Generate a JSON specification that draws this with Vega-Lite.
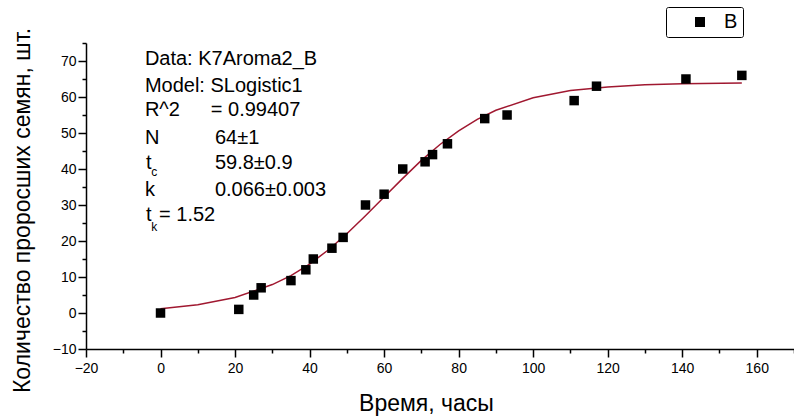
{
  "$schema": "https://vega.github.io/schema/vega-lite/v6.json",
  "width": 708,
  "height": 306,
  "autosize": {"type": "none"},
  "padding": {"left": 86, "top": 43, "right": 0, "bottom": 70},
  "background": "white",
  "config": {
    "view": {"stroke": null},
    "font": "Liberation Sans, Arial",
    "axis": {"grid": false, "domainColor": "black", "tickColor": "black", "labelColor": "black", "titleColor": "black", "domainWidth": 1.5, "tickWidth": 1.5, "labelFont": "Liberation Sans, Arial", "labelFontSize": 14, "titleFont": "Liberation Sans, Arial", "titleFontWeight": "normal", "titleFontSize": 23}
  },
  "datasets": {
    "points": [
      {"t": 0, "n": 0, "s": "B"},
      {"t": 21, "n": 1, "s": "B"},
      {"t": 25, "n": 5, "s": "B"},
      {"t": 27, "n": 7, "s": "B"},
      {"t": 35, "n": 9, "s": "B"},
      {"t": 39, "n": 12, "s": "B"},
      {"t": 41, "n": 15, "s": "B"},
      {"t": 46, "n": 18, "s": "B"},
      {"t": 49, "n": 21, "s": "B"},
      {"t": 55, "n": 30, "s": "B"},
      {"t": 60, "n": 33, "s": "B"},
      {"t": 65, "n": 40, "s": "B"},
      {"t": 71, "n": 42, "s": "B"},
      {"t": 73, "n": 44, "s": "B"},
      {"t": 77, "n": 47, "s": "B"},
      {"t": 87, "n": 54, "s": "B"},
      {"t": 93, "n": 55, "s": "B"},
      {"t": 111, "n": 59, "s": "B"},
      {"t": 117, "n": 63, "s": "B"},
      {"t": 141, "n": 65, "s": "B"},
      {"t": 156, "n": 66, "s": "B"}
    ],
    "fit": [
      {"t": 0, "n": 1.2},
      {"t": 10, "n": 2.3},
      {"t": 20, "n": 4.3},
      {"t": 30, "n": 7.9},
      {"t": 35, "n": 10.4},
      {"t": 40, "n": 13.6},
      {"t": 45, "n": 17.5},
      {"t": 50, "n": 22.0},
      {"t": 55, "n": 27.0},
      {"t": 60, "n": 32.2},
      {"t": 65, "n": 37.4},
      {"t": 70, "n": 42.4},
      {"t": 75, "n": 46.8},
      {"t": 80, "n": 50.6},
      {"t": 85, "n": 53.8},
      {"t": 90, "n": 56.3},
      {"t": 100, "n": 59.8},
      {"t": 110, "n": 61.8},
      {"t": 120, "n": 62.8},
      {"t": 130, "n": 63.4},
      {"t": 140, "n": 63.7},
      {"t": 156, "n": 63.9}
    ],
    "notes": [
      {"t": -4.2, "n": 70.6, "label": "Data: K7Aroma2_B"},
      {"t": -4.2, "n": 63.1, "label": "Model: SLogistic1"},
      {"t": -4.2, "n": 56.4, "label": "R^2"},
      {"t": 13.5, "n": 56.4, "label": "=  0.99407"},
      {"t": -4.2, "n": 48.75, "label": "N"},
      {"t": 14.6, "n": 48.75, "label": "64±1"},
      {"t": -3.9, "n": 41.7, "label": "t"},
      {"t": 14.6, "n": 41.7, "label": "59.8±0.9"},
      {"t": -4.2, "n": 34.2, "label": "k"},
      {"t": 14.6, "n": 34.2, "label": "0.066±0.003"},
      {"t": -3.9, "n": 27.1, "label": "t"},
      {"t": -0.4, "n": 27.1, "label": "= 1.52"}
    ],
    "subs": [
      {"t": -2.5, "n": 39.2, "label": "c"},
      {"t": -2.5, "n": 24.0, "label": "k"}
    ]
  },
  "layer": [
    {
      "data": {"name": "fit"},
      "mark": {"type": "line", "color": "#a01830", "strokeWidth": 1.5, "clip": true},
      "encoding": {
        "x": {"field": "t", "type": "quantitative", "scale": {"domain": [-20, 170], "nice": false, "zero": false},
          "axis": {"values": [-20, 0, 20, 40, 60, 80, 100, 120, 140, 160], "tickSize": 8, "labelPadding": 4, "title": "Время, часы", "titleX": 340, "titleY": 54, "titleBaseline": "middle", "titleAnchor": "middle", "labelFlush": false}},
        "y": {"field": "n", "type": "quantitative", "scale": {"domain": [-10, 75], "nice": false, "zero": false},
          "axis": {"values": [-10, 0, 10, 20, 30, 40, 50, 60, 70], "tickSize": 8, "labelPadding": 2, "title": "Количество проросших семян, шт.", "titleX": -64, "titleY": 167, "titleBaseline": "middle", "titleAnchor": "middle", "titleAngle": -90, "labelFlush": false}}
      }
    },
    {
      "data": {"name": "points"},
      "mark": {"type": "point", "shape": "square", "filled": true, "size": 90, "opacity": 1},
      "encoding": {
        "x": {"field": "t", "type": "quantitative",
          "axis": {"orient": "bottom", "values": [-10, 10, 30, 50, 70, 90, 110, 130, 150, 170], "tickSize": 4, "labels": false, "domain": false, "title": null}},
        "y": {"field": "n", "type": "quantitative",
          "axis": {"orient": "left", "values": [-5, 5, 15, 25, 35, 45, 55, 65, 75], "tickSize": 4, "labels": false, "domain": false, "title": null}},
        "color": {"field": "s", "type": "nominal", "scale": {"range": ["black"]},
          "legend": {"orient": "none", "legendX": 580, "legendY": -36, "title": null, "strokeColor": "black", "cornerRadius": 2, "fillColor": "white", "padding": 5, "symbolType": "square", "symbolSize": 100, "symbolOffset": 19, "labelOffset": 14, "labelFontSize": 20, "labelFont": "Liberation Sans, Arial", "labelColor": "black"}}
      }
    },
    {
      "data": {"name": "notes"},
      "mark": {"type": "text", "align": "left", "baseline": "middle", "fontSize": 20, "font": "Liberation Sans, Arial", "color": "black"},
      "encoding": {
        "x": {"field": "t", "type": "quantitative", "axis": null},
        "y": {"field": "n", "type": "quantitative", "axis": null},
        "text": {"field": "label"}
      }
    },
    {
      "data": {"name": "subs"},
      "mark": {"type": "text", "align": "left", "baseline": "middle", "fontSize": 12, "font": "Liberation Sans, Arial", "color": "black"},
      "encoding": {
        "x": {"field": "t", "type": "quantitative", "axis": null},
        "y": {"field": "n", "type": "quantitative", "axis": null},
        "text": {"field": "label"}
      }
    }
  ],
  "resolve": {"axis": {"x": "independent", "y": "independent"}}
}
